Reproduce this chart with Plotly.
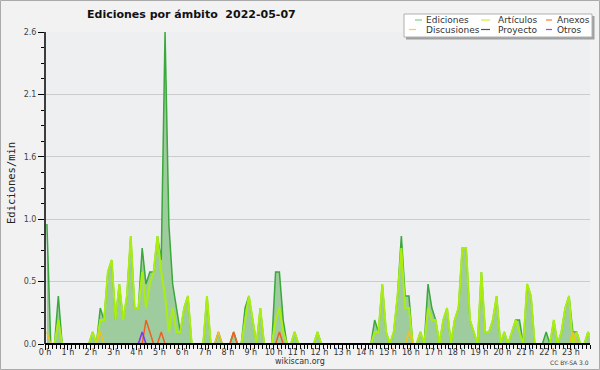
import plotly.graph_objects as go

# 10-minute bins (bin centres, in minutes after midnight)
bin_minutes = [10 * i + 5 for i in range(144)]

ediciones = [
    1.0, 0, 0, 0.4, 0, 0, 0, 0, 0, 0, 0, 0,
    0.1, 0, 0.3, 0.2, 0.6, 0.7, 0.2, 0.5, 0.2, 0.4, 0.9, 0.3,
    0.3, 0.8, 0.5, 0.6, 0.6, 0.9, 0.7, 2.6, 1.0, 0.5, 0.3, 0.1,
    0.3, 0.4, 0, 0, 0, 0, 0.4, 0, 0, 0.1, 0, 0,
    0, 0.1, 0, 0, 0.3, 0.4, 0.2, 0, 0.3, 0, 0, 0,
    0.6, 0.6, 0.2, 0, 0, 0.1, 0, 0, 0, 0, 0, 0.1,
    0, 0, 0, 0, 0, 0, 0, 0, 0, 0, 0, 0,
    0, 0, 0.2, 0.1, 0.5, 0.1, 0, 0.1, 0.4, 0.9, 0.4, 0.4,
    0, 0, 0.1, 0, 0.5, 0.3, 0.2, 0, 0.2, 0.3, 0, 0.2,
    0.3, 0.8, 0.8, 0.2, 0.1, 0, 0.6, 0.1, 0.1, 0.2, 0.4, 0,
    0.1, 0, 0.1, 0.2, 0.2, 0, 0.5, 0.4, 0, 0, 0, 0.1,
    0, 0.2, 0, 0.1, 0.3, 0.4, 0.1, 0.1, 0, 0, 0.1, 0,
]

articulos = [
    0, 0, 0, 0.2, 0, 0, 0, 0, 0, 0, 0, 0,
    0.1, 0, 0.2, 0.2, 0.6, 0.7, 0.2, 0.5, 0.2, 0.4, 0.9, 0.3,
    0.3, 0.6, 0.3, 0.5, 0.6, 0.9, 0.6, 0.4, 0.1, 0.3, 0.1, 0.1,
    0.3, 0.4, 0, 0, 0, 0, 0.4, 0, 0, 0, 0, 0,
    0, 0, 0, 0, 0.2, 0.4, 0.2, 0, 0.3, 0, 0, 0,
    0.2, 0.3, 0.1, 0, 0, 0.1, 0, 0, 0, 0, 0, 0.1,
    0, 0, 0, 0, 0, 0, 0, 0, 0, 0, 0, 0,
    0, 0, 0.1, 0.1, 0.5, 0.1, 0, 0.1, 0.4, 0.8, 0.3, 0.3,
    0, 0, 0.1, 0, 0.3, 0.2, 0.2, 0, 0.2, 0.3, 0, 0.2,
    0.3, 0.8, 0.8, 0.2, 0.1, 0, 0.6, 0.1, 0.1, 0.2, 0.4, 0,
    0.1, 0, 0.1, 0.2, 0.1, 0, 0.5, 0.4, 0, 0, 0, 0,
    0, 0.2, 0, 0.1, 0.3, 0.4, 0, 0.1, 0, 0, 0.1, 0,
]

discusiones = [
    0.1, 0, 0, 0, 0, 0, 0, 0, 0, 0, 0, 0,
    0, 0, 0.1, 0, 0, 0, 0, 0, 0, 0, 0, 0,
    0, 0, 0, 0, 0, 0, 0, 0, 0, 0, 0, 0,
    0, 0, 0, 0, 0, 0, 0, 0, 0, 0.1, 0, 0,
    0, 0, 0, 0, 0, 0, 0, 0, 0, 0, 0, 0,
    0, 0, 0, 0, 0, 0, 0, 0, 0, 0, 0, 0,
    0, 0, 0, 0, 0, 0, 0, 0, 0, 0, 0, 0,
    0, 0, 0, 0, 0, 0, 0, 0, 0, 0, 0, 0.1,
    0, 0, 0, 0, 0, 0, 0, 0, 0, 0, 0, 0,
    0, 0, 0, 0, 0, 0, 0, 0, 0, 0, 0, 0,
    0, 0, 0, 0, 0, 0, 0, 0, 0, 0, 0, 0,
    0, 0, 0, 0, 0, 0, 0.1, 0, 0, 0, 0, 0,
]

anexos = [
    0, 0, 0, 0, 0, 0, 0, 0, 0, 0, 0, 0,
    0, 0, 0, 0, 0, 0, 0, 0, 0, 0, 0, 0,
    0, 0, 0.2, 0.1, 0, 0, 0.1, 0, 0, 0, 0, 0,
    0, 0, 0, 0, 0, 0, 0, 0, 0, 0, 0, 0,
    0, 0.1, 0, 0, 0, 0, 0, 0, 0, 0, 0, 0,
    0, 0.1, 0, 0, 0, 0, 0, 0, 0, 0, 0, 0,
    0, 0, 0, 0, 0, 0, 0, 0, 0, 0, 0, 0,
    0, 0, 0, 0, 0, 0, 0, 0, 0, 0, 0, 0,
    0, 0, 0, 0, 0, 0, 0, 0, 0, 0, 0, 0,
    0, 0, 0, 0, 0, 0, 0, 0, 0, 0, 0, 0,
    0, 0, 0, 0, 0, 0, 0, 0, 0, 0, 0, 0,
    0, 0, 0, 0, 0, 0, 0, 0, 0, 0, 0, 0,
]

proyecto = [0] * 144

otros = [
    0, 0, 0, 0, 0, 0, 0, 0, 0, 0, 0, 0,
    0, 0, 0, 0, 0, 0, 0, 0, 0, 0, 0, 0,
    0, 0.1, 0, 0, 0, 0, 0, 0, 0, 0, 0, 0,
    0, 0, 0, 0, 0, 0, 0, 0, 0, 0, 0, 0,
    0, 0, 0, 0, 0, 0, 0, 0, 0, 0, 0, 0,
    0, 0, 0, 0, 0, 0, 0, 0, 0, 0, 0, 0,
    0, 0, 0, 0, 0, 0, 0, 0, 0, 0, 0, 0,
    0, 0, 0, 0, 0, 0, 0, 0, 0, 0, 0, 0,
    0, 0, 0, 0, 0, 0, 0, 0, 0, 0, 0, 0,
    0, 0, 0, 0, 0, 0, 0, 0, 0, 0, 0, 0,
    0, 0, 0, 0, 0, 0, 0, 0, 0, 0, 0, 0,
    0, 0, 0, 0, 0, 0, 0, 0, 0, 0, 0, 0,
]

hour_ticks = list(range(24))
hour_labels = [f"{h} h" for h in hour_ticks]
y_ticks = [0, 0.52, 1.04, 1.56, 2.08, 2.6]
y_labels = ["0.0", "0.5", "1.0", "1.6", "2.1", "2.6"]

legend_names = ["Ediciones", "Artículos", "Anexos", "Discusiones", "Proyecto", "Otros"]
legend_colors = ["#77d877", "#c8f530", "#ff7a33", "#ffcc33", "#555555", "#9a40ff"]

hours = [m / 60 for m in bin_minutes]

W, H = 600, 370
L, R, T, B = 45, 10, 32, 26
PW, PH = W - L - R, H - T - B


def px(x):
    return (x - L) / PW


def py(y):
    return (H - B - y) / PH


fig = go.Figure()
fig.add_trace(go.Scatter(x=hours, y=ediciones, mode="lines", name="Ediciones",
                         line=dict(color="#3aa83a", width=1.5), fill="tozeroy",
                         fillcolor="#9fcc9f"))
fig.add_trace(go.Scatter(x=hours, y=articulos, mode="lines", name="Artículos",
                         line=dict(color="#aaee11", width=2)))
fig.add_trace(go.Scatter(x=hours, y=discusiones, mode="lines", name="Discusiones",
                         line=dict(color="#f2c21a", width=1.5)))
fig.add_trace(go.Scatter(x=hours, y=proyecto, mode="lines", name="Proyecto",
                         line=dict(color="#555555", width=1.5)))
fig.add_trace(go.Scatter(x=hours, y=anexos, mode="lines", name="Anexos",
                         line=dict(color="#f06020", width=1.5)))
fig.add_trace(go.Scatter(x=hours, y=otros, mode="lines", name="Otros",
                         line=dict(color="#7f33ee", width=1.5)))

shapes = []
annotations = []

# axis lines drawn above traces
shapes.append(dict(type="line", xref="paper", yref="paper", x0=0, x1=1, y0=0, y1=0,
                   line=dict(color="black", width=2), layer="above"))
shapes.append(dict(type="line", xref="paper", yref="paper", x0=0, x1=0, y0=0, y1=1,
                   line=dict(color="black", width=1.5), layer="above"))
# outer frame
shapes.append(dict(type="rect", xref="paper", yref="paper", x0=px(0.5), x1=px(599.5),
                   y0=py(369.5), y1=py(0.5), line=dict(color="#aaaaaa", width=1), layer="above"))
# legend box with shadow
shapes.append(dict(type="rect", xref="paper", yref="paper", x0=px(406), x1=px(594.5),
                   y0=py(39.5), y1=py(16), line=dict(width=0), fillcolor="#a0a0a0", layer="above"))
shapes.append(dict(type="rect", xref="paper", yref="paper", x0=px(404), x1=px(592),
                   y0=py(37), y1=py(14), line=dict(color="#b0b0b0", width=1),
                   fillcolor="white", layer="above"))

col_line_x = [(415, 422), (481, 490), (546, 552)]
col_text_x = [424, 496, 555]
row_y = [20, 29.5]
for k, name in enumerate(legend_names):
    r, c = divmod(k, 3)
    x0, x1 = col_line_x[c]
    if r == 1 and c == 0:
        x0, x1 = 409, 416
    shapes.append(dict(type="line", xref="paper", yref="paper", x0=px(x0), x1=px(x1),
                       y0=py(row_y[r]), y1=py(row_y[r]),
                       line=dict(color=legend_colors[k], width=1.2), layer="above"))
    annotations.append(dict(xref="paper", yref="paper", x=px(col_text_x[c]), y=py(row_y[r]),
                            xanchor="left", yanchor="middle", showarrow=False, text=name,
                            font=dict(family="DejaVu Sans", size=9, color="#333333")))

annotations.append(dict(xref="paper", yref="paper", x=px(85), y=py(14.5), xanchor="left",
                        yanchor="middle", showarrow=False,
                        text="<b>Ediciones por ámbito \u00a02022-05-07</b>",
                        font=dict(family="DejaVu Sans", size=11, color="#111111")))
annotations.append(dict(xref="paper", yref="paper", x=px(11), y=py(183), xanchor="center",
                        yanchor="middle", showarrow=False, text="Ediciones/min", textangle=-90,
                        font=dict(family="DejaVu Sans Mono", size=10.5, color="#222222")))
annotations.append(dict(xref="paper", yref="paper", x=px(300), y=py(361), xanchor="center",
                        yanchor="middle", showarrow=False, text="wikiscan.org",
                        font=dict(family="DejaVu Sans", size=8, color="#333333")))
annotations.append(dict(xref="paper", yref="paper", x=px(569), y=py(362), xanchor="center",
                        yanchor="middle", showarrow=False, text="CC BY-SA 3.0",
                        font=dict(family="DejaVu Sans", size=6, color="#444444")))

fig.update_layout(
    width=W, height=H, autosize=False,
    margin=dict(l=L, r=R, t=T, b=B, pad=0, autoexpand=False),
    paper_bgcolor="#f2f2f2",
    plot_bgcolor="#eeeff1",
    showlegend=False,
    font=dict(family="DejaVu Sans", size=8, color="#333333"),
    shapes=shapes,
    annotations=annotations,
    xaxis=dict(range=[0, 143 / 6], tickmode="array", tickvals=hour_ticks, ticktext=hour_labels,
               showgrid=False, zeroline=False, showline=False, automargin=False,
               ticks="outside", ticklen=5, tickwidth=1, tickcolor="black",
               ticklabelstandoff=-5,
               tickfont=dict(family="DejaVu Sans", size=8, color="#333333"),
               minor=dict(dtick=1 / 6, tick0=0, ticks="outside", ticklen=4, tickwidth=1,
                          tickcolor="black", showgrid=False)),
    yaxis=dict(range=[0, 2.6], tickmode="array", tickvals=y_ticks, ticktext=y_labels,
               showgrid=True, gridcolor="#cccccc", gridwidth=1, zeroline=False, showline=False,
               automargin=False,
               ticks="outside", ticklen=6, tickwidth=1, tickcolor="black",
               tickfont=dict(family="DejaVu Sans", size=8, color="#444444"),
               minor=dict(dtick=0.13, tick0=0, ticks="outside", ticklen=3, tickwidth=1,
                          tickcolor="black", showgrid=False)),
)

fig.write_html("out.html", config={"displayModeBar": False},
               post_script="document.body.style.margin='0';document.body.style.padding='0';")
